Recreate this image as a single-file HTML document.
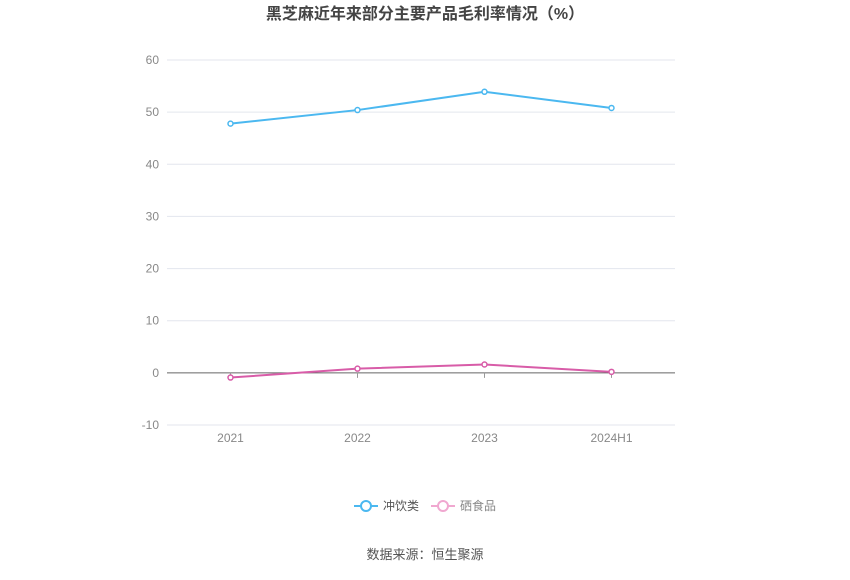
<!DOCTYPE html>
<html><head><meta charset="utf-8"><style>
body{margin:0;background:#fff;font-family:"Liberation Sans","Noto Sans CJK SC",sans-serif;}
</style></head><body>
<svg width="850" height="575" xmlns="http://www.w3.org/2000/svg" id="c">
<text x="425" y="19" text-anchor="middle" font-size="16" font-weight="bold" fill="#444">黑芝麻近年来部分主要产品毛利率情况（%）</text>
<g id="grid"></g><g id="series"></g>
<g>
<g><line x1="354" y1="506" x2="378" y2="506" stroke="#4bb8f0" stroke-width="2"/><circle cx="366" cy="506" r="5" fill="#fff" stroke="#4bb8f0" stroke-width="2"/><text x="383" y="510" font-size="12" fill="#555">冲饮类</text></g>
<g><line x1="431" y1="506" x2="455" y2="506" stroke="#f0a8d0" stroke-width="2"/><circle cx="443" cy="506" r="5" fill="#fff" stroke="#f0a8d0" stroke-width="2"/><text x="460" y="510" font-size="12" fill="#888">硒食品</text></g>
</g>
<text x="425" y="559" text-anchor="middle" font-size="13" fill="#555">数据来源：恒生聚源</text>
</svg>
<script>
const categories=["2021","2022","2023","2024H1"];
const chongyin=[47.8,50.4,53.9,50.8];
const xi=[-0.9,0.8,1.6,0.2];
const yTicks=[60,50,40,30,20,10,0,-10];
const NS="http://www.w3.org/2000/svg";
const L=167,R=675,T=60,B=425,ymin=-10,ymax=60;
const y=v=>B-(v-ymin)/(ymax-ymin)*(B-T);
const x=i=>L+(R-L)/categories.length*(i+0.5);
function mk(t,a,p){const e=document.createElementNS(NS,t);for(const k in a)e.setAttribute(k,a[k]);p.appendChild(e);return e;}
const g=document.getElementById('grid'),s=document.getElementById('series');
yTicks.forEach(v=>{
 const ln=mk('line',{x1:L,x2:R,y1:y(v),y2:y(v),stroke:v===0?'#666':'#e3e6ee','stroke-width':1},g);
 
 
 const t=mk('text',{x:159,y:y(v)+4,'text-anchor':'end','font-size':12,fill:'#888'},g);t.textContent=v;
 
 
});
categories.forEach((c,i)=>{
 const tk=mk('line',{x1:x(i),x2:x(i),y1:y(0),y2:y(0)+5,stroke:'#999'},g);
 
 
 const t=mk('text',{x:x(i),y:442,'text-anchor':'middle','font-size':12,fill:'#888'},g);t.textContent=c;
 
 
});
function draw(d,col,name){
 const p=mk('polyline',{points:d.map((v,i)=>x(i)+','+y(v)).join(' '),fill:'none',stroke:col,'stroke-width':2},s);
 
 
 d.forEach((v,i)=>{const c=mk('circle',{cx:x(i),cy:y(v),r:2.5,fill:'#fff',stroke:col,'stroke-width':1.5},s);
 
 });
}
draw(chongyin,'#4bb8f0','chongyin');
draw(xi,'#d85ca8','xi');
</script>
</body></html>
